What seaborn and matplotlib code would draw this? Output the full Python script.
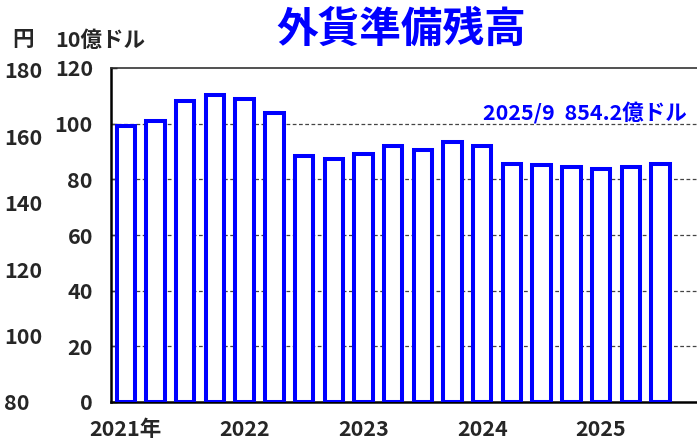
import matplotlib
matplotlib.use('Agg')
import matplotlib.pyplot as plt
import seaborn as sns
import numpy as np

sns.set_style('white')
plt.rcParams['font.family'] = ['Noto Sans CJK JP', 'DejaVu Sans']
plt.rcParams['font.weight'] = 'bold'

# 四半期末の外貨準備残高 (10億ドル)
quarters = ['2021/3', '2021/6', '2021/9', '2021/12',
            '2022/3', '2022/6', '2022/9', '2022/12',
            '2023/3', '2023/6', '2023/9', '2023/12',
            '2024/3', '2024/6', '2024/9', '2024/12',
            '2025/3', '2025/6', '2025/9']
reserves = [99.2, 101.0, 108.0, 110.4, 109.0, 104.0, 88.3, 87.2, 89.1, 92.0,
            90.4, 93.3, 92.0, 85.6, 85.3, 84.3, 83.8, 84.4, 85.4]
year_pos = [0, 4, 8, 12, 16]
year_labels = ['2021年', '2022', '2023', '2024', '2025']
usd_ticks = [0, 20, 40, 60, 80, 100, 120]
yen_ticks = [80, 100, 120, 140, 160, 180]

fs = 15.5

fig = plt.figure(figsize=(6.97, 4.42), dpi=100)
ax = fig.add_axes([111/697, 1-402/442, 1-111/697, 334/442])

sns.barplot(x=quarters, y=reserves, color='white', edgecolor='#0000FF',
            linewidth=2.9, width=0.62, saturation=1, ax=ax, zorder=3)

ax.set_xlim(-0.5, 19.23)
ax.set_ylim(0, 120)
ax.set_xlabel('')
ax.set_ylabel('')

ax.set_xticks(year_pos)
ax.set_xticklabels(year_labels, fontsize=fs, fontweight='bold')
ax.set_xticks(np.arange(-0.5, 19, 1.0), minor=True)
ax.tick_params(axis='x', which='major', length=0, pad=12)
ax.tick_params(axis='x', which='minor', direction='in', length=5, width=1.5, color='#888888')

ax.set_yticks(usd_ticks)
ax.set_yticklabels([str(v) for v in usd_ticks], fontsize=fs, fontweight='bold')
ax.tick_params(axis='y', direction='in', length=4, width=1, pad=13, color='black')

ax.set_axisbelow(True)
for v in usd_ticks[1:-1]:
    ax.axhline(v, color='#444444', lw=0.9, ls=(0, (3, 2)), zorder=1)

for s in ['left', 'bottom']:
    ax.spines[s].set_color('black')
    ax.spines[s].set_linewidth(1.8)
ax.spines['top'].set_color('#333333')
ax.spines['top'].set_linewidth(1.2)
ax.spines['right'].set_visible(False)

# 円のスケール (左外側)
ax2 = ax.twinx()
ax2.set_ylim(81.8, 180.6)
ax2.yaxis.tick_left()
ax2.set_yticks(yen_ticks)
ax2.set_yticklabels([str(v) for v in yen_ticks], fontsize=fs, fontweight='bold', ha='left')
ax2.tick_params(axis='y', length=0, pad=77)
for s in ax2.spines.values():
    s.set_visible(False)

fig.text(12/697, 1-40/442, '円', fontsize=fs, fontweight='bold', va='center', ha='left')
fig.text(55/697, 1-40/442, '10億ドル', fontsize=fs, fontweight='bold', va='center', ha='left')
fig.text(401/697, 1-30/442, '外貨準備残高', fontsize=30, fontweight='bold',
         color='#0000FF', ha='center', va='center')
ax.text(18.9, 103.5, '2025/9  854.2億ドル', fontsize=fs, fontweight='bold',
        color='#0000FF', ha='right', va='center')

fig.savefig('out.png', dpi=100)
